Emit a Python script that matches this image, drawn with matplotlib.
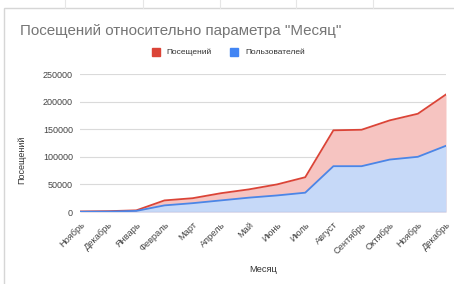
import matplotlib
matplotlib.use("Agg")
import matplotlib.pyplot as plt
from matplotlib.patches import Rectangle
import numpy as np

months = ["Ноябрь", "Декабрь", "Январь", "Февраль", "Март", "Апрель", "Май",
          "Июнь", "Июль", "Август", "Сентябрь", "Октябрь", "Ноябрь", "Декабрь"]
visits = [1000, 1500, 3000, 21000, 25000, 34000, 41000,
          50000, 63000, 148000, 149000, 166000, 178000, 213000]
users = [500, 800, 2000, 12000, 16000, 21000, 26000,
         30000, 35000, 83000, 83000, 95000, 100000, 120000]
yticks = [0, 50000, 100000, 150000, 200000, 250000]

plt.rcParams['font.family'] = ['Liberation Sans', 'DejaVu Sans']

W, H = 454, 284
fig = plt.figure(figsize=(W / 100, H / 100), dpi=100)
fig.patch.set_facecolor("white")

# faint spreadsheet background lines and chart card border
for xv in [65, 143, 220, 296, 373]:
    fig.add_artist(plt.Line2D([xv / W, xv / W], [1 - 0 / H, 1 - 8 / H],
                              color="#e6e6e6", lw=0.8))
fig.add_artist(Rectangle((4 / W, -0.01), 1.0, 1 - 8 / H + 0.01, transform=fig.transFigure,
                         fill=False, edgecolor="#d6d6d6", lw=1.0))

ax = fig.add_axes([80 / W, 1 - 212 / H, (446 - 80) / W, (212 - 74) / H])
x = np.arange(len(months))
ax.fill_between(x, 0, visits, color="#f6c4c1", lw=0, zorder=1)
ax.fill_between(x, 0, users, color="#c6d9f8", lw=0, zorder=2)
ax.plot(x, visits, color="#db4437", lw=1.3, zorder=4)
ax.plot(x, users, color="#4a86e8", lw=1.3, zorder=4)

ax.set_xlim(0, len(months) - 1)
ax.set_ylim(0, 250000)
ax.set_yticks(yticks)
ax.set_yticklabels([str(v) for v in yticks], fontsize=6.5, color="#444444")
ax.set_xticks(x)
ax.set_xticklabels(months, rotation=45, ha="right", rotation_mode="anchor",
                   fontsize=6.7, color="#444444")
ax.tick_params(axis="both", length=0, pad=5)
ax.tick_params(axis="x", pad=6)
ax.grid(axis="y", color="#dadada", lw=0.8, zorder=0)
ax.set_axisbelow(True)
for s in ax.spines.values():
    s.set_visible(False)
ax.axhline(0, color="#6b7b99", lw=0.8, zorder=3)

fig.text(20 / W, 1 - 31 / H, 'Посещений относительно параметра "Месяц"',
         fontsize=10.9, color="#757575", va="center", ha="left")
fig.text(22 / W, 1 - 160 / H, "Посещений", rotation=90, fontsize=6.5,
         color="#333333", va="center", ha="center")
fig.text(263 / W, 1 - 270 / H, "Месяц", fontsize=6.7, color="#333333",
         va="center", ha="center")

# legend
ly = 1 - 52 / H
fig.add_artist(Rectangle((152 / W, ly - 4 / H), 8 / W, 8 / H, transform=fig.transFigure,
                         color="#db4437"))
fig.text(166 / W, ly, "Посещений", fontsize=6, color="#333333", va="center", ha="left")
fig.add_artist(Rectangle((230 / W, ly - 4 / H), 8 / W, 8 / H, transform=fig.transFigure,
                         color="#4285f4"))
fig.text(245 / W, ly, "Пользователей", fontsize=6, color="#333333", va="center", ha="left")

fig.savefig("out.png", dpi=100)
